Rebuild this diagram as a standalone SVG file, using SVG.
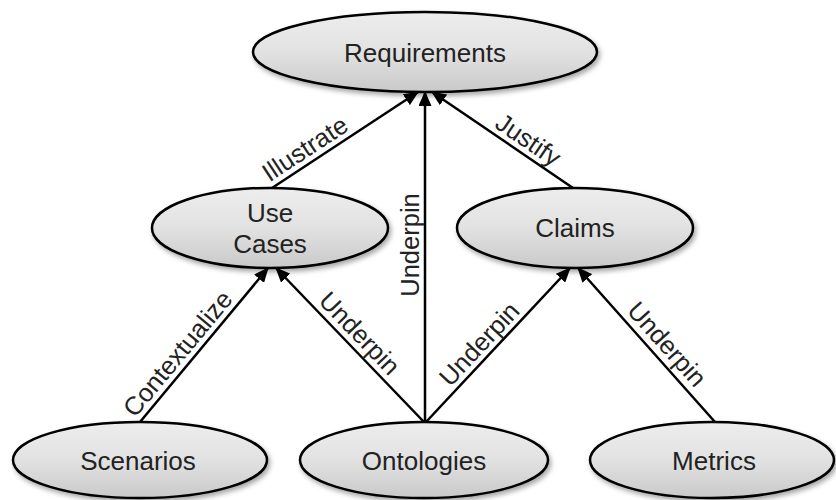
<svg xmlns="http://www.w3.org/2000/svg" width="836" height="500" viewBox="0 0 836 500">
<defs>
<linearGradient id="g" x1="0" y1="0" x2="0" y2="1">
<stop offset="0" stop-color="#ededed"/>
<stop offset="0.5" stop-color="#e2e2e2"/>
<stop offset="1" stop-color="#c9c9c9"/>
</linearGradient>
<filter id="sh" x="-10%" y="-20%" width="125%" height="150%">
<feDropShadow dx="2" dy="3" stdDeviation="2.5" flood-color="#000" flood-opacity="0.35"/>
</filter>
<marker id="ah" viewBox="0 0 15 13" refX="14" refY="6.5" markerWidth="15" markerHeight="13" markerUnits="userSpaceOnUse" orient="auto">
<path d="M0,0 L15,6.5 L0,13 Z" fill="#000"/>
</marker>
<style>
.n ellipse{fill:url(#g);stroke:#000;stroke-width:2.5;filter:url(#sh)}
.n text{font-family:"Liberation Sans",Arial,sans-serif;font-size:26px;fill:#222;text-anchor:middle}
.c line{stroke:#000;stroke-width:2.5;marker-end:url(#ah)}
.c text{font-family:"Liberation Sans",Arial,sans-serif;font-size:25.5px;fill:#222;text-anchor:middle}
</style>
</defs>
<g id="connectors" class="c">
<line x1="272" y1="188" x2="418" y2="92"/>
<line x1="425" y1="422" x2="425" y2="92"/>
<line x1="573" y1="188" x2="432" y2="92"/>
<line x1="140" y1="422" x2="268" y2="268"/>
<line x1="424" y1="422" x2="276" y2="268"/>
<line x1="426" y1="422" x2="570" y2="268"/>
<line x1="715" y1="422" x2="578" y2="268"/>
<text transform="translate(313,161) rotate(-33.3)" y="-6">Illustrate</text>
<text transform="translate(520,152) rotate(34.2)" y="-6">Justify</text>
<text transform="translate(425,245) rotate(-90)" y="-6">Underpin</text>
<text transform="translate(189,363) rotate(-50.3)" y="-6">Contextualize</text>
<text transform="translate(349,343.5) rotate(46.1)" y="-6">Underpin</text>
<text transform="translate(490,354) rotate(-46.9)" y="-6">Underpin</text>
<text transform="translate(656,354) rotate(48.3)" y="-6">Underpin</text>
</g>
<g id="requirements" class="n"><ellipse cx="425" cy="52" rx="172" ry="40"/><text x="425" y="62">Requirements</text></g>
<g id="usecases" class="n"><ellipse cx="270" cy="228" rx="118" ry="40"/><text x="270" y="222">Use</text><text x="270" y="253">Cases</text></g>
<g id="claims" class="n"><ellipse cx="575" cy="228" rx="118" ry="40"/><text x="575" y="237">Claims</text></g>
<g id="scenarios" class="n"><ellipse cx="140" cy="460" rx="127" ry="38"/><text x="138" y="470">Scenarios</text></g>
<g id="ontologies" class="n"><ellipse cx="424" cy="460" rx="124" ry="38"/><text x="424" y="470">Ontologies</text></g>
<g id="metrics" class="n"><ellipse cx="712" cy="460" rx="122" ry="38"/><text x="714" y="470">Metrics</text></g>
</svg>
